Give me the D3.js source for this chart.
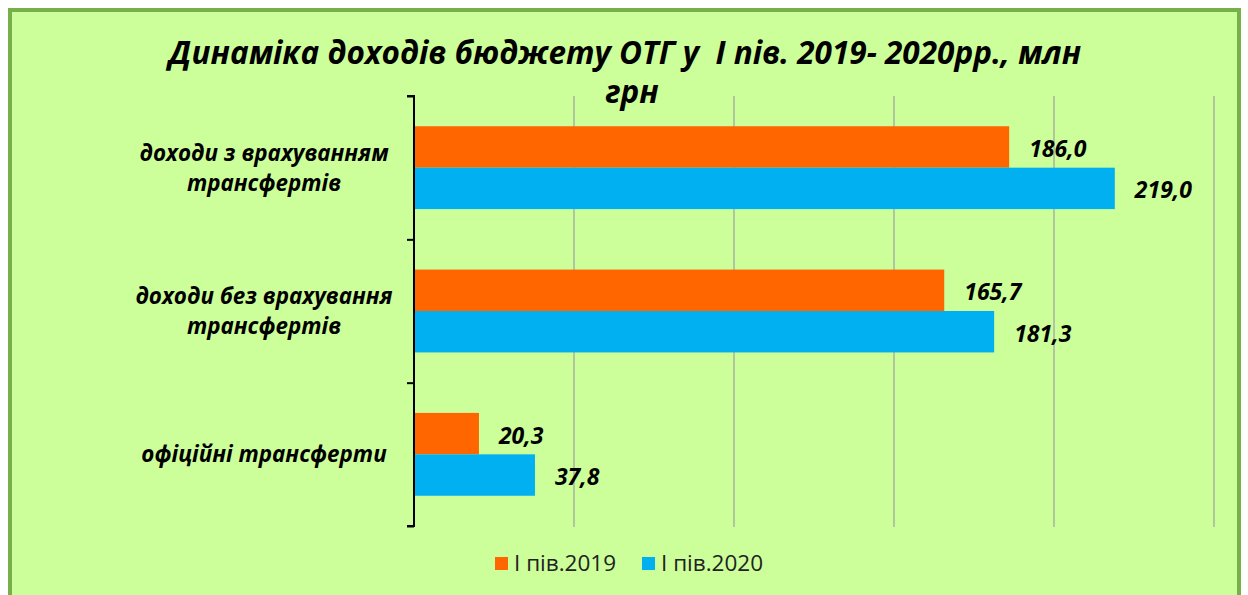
<!DOCTYPE html>
<html>
<head>
<meta charset="utf-8">
<script src="https://cdn.jsdelivr.net/npm/d3@7"></script>
<style>
  body { margin: 0; background: #fff; }
  svg { display: block; }
  .title { font-family: "Open Sans", Lato, sans-serif; font-weight: bold; font-style: italic; white-space: pre; }
  .cat { font-family: "Open Sans", Lato, sans-serif; font-weight: bold; font-style: italic; }
  .val { font-family: "Open Sans", Lato, sans-serif; font-weight: bold; font-style: italic; }
  .legend { font-family: "Open Sans", Lato, sans-serif; fill: #222; }
</style>
</head>
<body>
<script>
let categories = ["доходи з врахуванням трансфертів", "доходи без врахування трансфертів", "офіційні трансферти"];
let catLines = [["доходи з врахуванням", "трансфертів"], ["доходи без врахування", "трансфертів"], ["офіційні трансферти"]];
let series = ["І пів.2019", "І пів.2020"];
let values2019 = [186.0, 165.7, 20.3];
let values2020 = [219.0, 181.3, 37.8];
let xticks = [0, 50, 100, 150, 200, 250];
let colors = ["#ff6600", "#00b0f0"];

let W = 1248, H = 595;
let pLeft = 414, pRight = 1214, pTop = 96, pBottom = 526;

const svg = d3.select("body").append("svg")
  .attr("width", W).attr("height", H);

// frame
svg.append("rect")
  .attr("x", 10).attr("y", 10)
  .attr("width", 1229).attr("height", 600)
  .attr("fill", "#ccff99")
  .attr("stroke", "#77b04a")
  .attr("stroke-width", 4);

const x_scale = d3.scaleLinear().domain([0, 250]).range([pLeft, pRight]);
const y_scale = d3.scaleBand().domain(categories).range([pTop, pBottom]);
const inner = d3.scaleBand().domain(series).range([0, y_scale.bandwidth()]).paddingOuter(0.73).paddingInner(0);

// grid
svg.append("g")
  .selectAll("line")
  .data(xticks.slice(1))
  .enter()
  .append("line")
  .attr("x1", d => x_scale(d)).attr("x2", d => x_scale(d))
  .attr("y1", pTop).attr("y2", pBottom + 1)
  .attr("stroke", "#a0a0a0")
  .attr("stroke-width", 1.2);

// bars
let rows = categories.map((c, i) => ({c: c, vals: [values2019[i], values2020[i]]}));
let groups = svg.append("g").selectAll("g")
  .data(rows).enter().append("g")
  .attr("transform", d => `translate(0,${y_scale(d.c)})`);

groups.selectAll("rect")
  .data(d => d.vals.map((v, j) => ({s: series[j], v: v, j: j})))
  .enter()
  .append("rect")
  .attr("x", x_scale(0))
  .attr("y", d => inner(d.s))
  .attr("width", d => x_scale(d.v) - x_scale(0))
  .attr("height", inner.bandwidth())
  .attr("fill", d => colors[d.j]);

groups.selectAll("text")
  .data(d => d.vals.map((v, j) => ({s: series[j], v: v})))
  .enter()
  .append("text")
  .attr("class", "val")
  .attr("x", d => x_scale(d.v) + 20)
  .attr("y", d => inner(d.s) + inner.bandwidth() / 2 + 2)
  .attr("dy", "0.35em")
  .attr("font-size", 23)
  .text(d => d3.format(".1f")(d.v).replace(".", ","));

// y axis
svg.append("g")
  .attr("transform", `translate(${pLeft},0)`)
  .call(d3.axisLeft(d3.scaleLinear().domain([0, 3]).range([pTop, pBottom]))
    .ticks(3).tickSize(7).tickFormat(""))
  .call(g => g.selectAll("path, line").attr("stroke", "#000").attr("stroke-width", 2))
  .call(g => g.select(".domain").attr("d", `M-7,${pTop}H0V${pBottom}H-7`));

// category labels
catLines.forEach((lines, i) => {
  let cy = y_scale(categories[i]) + y_scale.bandwidth() / 2;
  let t = svg.append("text")
    .attr("class", "cat")
    .attr("text-anchor", "middle")
    .attr("font-size", 22.4);
  lines.forEach((ln, k) => {
    t.append("tspan")
      .attr("x", 264)
      .attr("y", cy + (k - (lines.length - 1) / 2) * 30)
      .attr("dy", "0.35em")
      .text(ln);
  });
});

// title
svg.append("text")
  .attr("class", "title")
  .attr("x", 625).attr("y", 64)
  .attr("text-anchor", "middle")
  .attr("font-size", 31.5)
  .text("Динаміка доходів бюджету ОТГ у  І пів. 2019- 2020рр., млн");
svg.append("text")
  .attr("class", "title")
  .attr("x", 632).attr("y", 103)
  .attr("text-anchor", "middle")
  .attr("font-size", 31.5)
  .text("грн");

// legend
let lx = [495, 642];
series.forEach((s, i) => {
  svg.append("rect")
    .attr("x", lx[i]).attr("y", 557)
    .attr("width", 13).attr("height", 13)
    .attr("fill", colors[i]);
  svg.append("text")
    .attr("class", "legend")
    .attr("x", lx[i] + 19).attr("y", 563)
    .attr("dy", "0.35em")
    .attr("font-size", 22.5)
    .text(s);
});
</script>
</body>
</html>
